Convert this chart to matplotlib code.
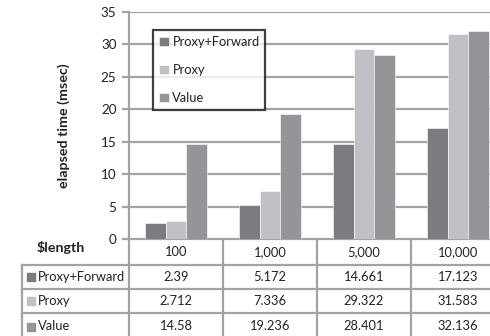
import matplotlib.pyplot as plt
from matplotlib.transforms import blended_transform_factory

plt.rcParams['font.family'] = ['Lato', 'DejaVu Sans']

lengths = ['100', '1,000', '5,000', '10,000']
series = ['Proxy+Forward', 'Proxy', 'Value']
proxy_forward = [2.39, 5.172, 14.661, 17.123]
proxy = [2.712, 7.336, 29.322, 31.583]
value = [14.58, 19.236, 28.401, 32.136]
value_labels = [['2.39', '5.172', '14.661', '17.123'],
                ['2.712', '7.336', '29.322', '31.583'],
                ['14.58', '19.236', '28.401', '32.136']]
colors = ['#7b7c80', '#c0c1c4', '#949599']
grid_c = '#a3a3a3'
fs = 9.3

W, H = 490, 336
fig = plt.figure(figsize=(W / 100, H / 100), dpi=100)

# pixel-space helper axes for the data table
tax = fig.add_axes([0, 0, 1, 1])
tax.set_xlim(0, W)
tax.set_ylim(H, 0)
tax.axis('off')

x0, x1, ytop, ybot = 129, 505, 12, 239
ax = fig.add_axes([x0 / W, 1 - ybot / H, (x1 - x0) / W, (ybot - ytop) / H])
ax.set_xlim(-0.5, 3.5)
ax.set_ylim(0, 35)

bw = 0.22
data = [proxy_forward, proxy, value]
for i, (vals, c, name) in enumerate(zip(data, colors, series)):
    ax.bar([k + (i - 1) * bw for k in range(4)], vals, width=bw, color=c,
           edgecolor='white', linewidth=0.4, label=name, zorder=3)

ax.set_yticks(range(0, 36, 5))
ax.yaxis.grid(True, color=grid_c, linewidth=1.6, zorder=0)
ax.set_xticks([])
for s in ['top', 'right', 'bottom']:
    ax.spines[s].set_visible(False)
ax.spines['left'].set_color(grid_c)
ax.spines['left'].set_linewidth(1.6)
ax.tick_params(axis='y', length=5, width=1.6, color=grid_c, labelsize=fs + 0.4,
               labelcolor='#222222', pad=4)
ax.set_ylabel('elapsed time (msec)', fontsize=10.3, fontweight='bold',
              color='#222222', labelpad=22)

leg = ax.legend(loc='upper left', bbox_to_anchor=(153 / W, 1 - 30 / H),
                bbox_transform=fig.transFigure, fontsize=fs, frameon=True,
                fancybox=False, handlelength=0.75, handleheight=0.75,
                handletextpad=0.3, labelspacing=1.25, borderpad=0.45,
                borderaxespad=0)
leg.get_frame().set_edgecolor('#111111')
leg.get_frame().set_linewidth(1.6)
for t in leg.get_texts():
    t.set_color('#222222')

# data table under the axis
bt = blended_transform_factory(ax.transData, tax.transData)
rows_y = [239, 265, 289, 313, 340]
lw = 1.6
bounds = [-0.5, 0.5, 1.5, 2.5, 3.5]
for b in bounds:
    tax.plot([b, b], [rows_y[0], rows_y[-1]], color=grid_c, lw=lw,
             transform=bt, clip_on=False)
tax.plot([-0.5, 3.5], [rows_y[0], rows_y[0]], color=grid_c, lw=lw,
         transform=bt, clip_on=False)
for y in rows_y[1:]:
    tax.plot([22, 600], [y, y], color=grid_c, lw=lw, clip_on=False)
tax.plot([22, 22], [rows_y[1], rows_y[-1]], color=grid_c, lw=lw, clip_on=False)

tax.text(61, 247, '$length', fontsize=10.3, fontweight='bold', color='#222222',
         ha='center', va='center')
for k, lab in enumerate(lengths):
    tax.text(k, (rows_y[0] + rows_y[1]) / 2, lab, transform=bt, fontsize=fs,
             ha='center', va='center', color='#222222')
for r, name in enumerate(series):
    yc = (rows_y[r + 1] + rows_y[r + 2]) / 2
    tax.add_patch(plt.Rectangle((27, yc - 4), 8, 8, color=colors[r]))
    tax.text(38, yc, name, fontsize=fs, ha='left', va='center', color='#222222')
    for k in range(4):
        tax.text(k, yc, value_labels[r][k], transform=bt, fontsize=fs,
                 ha='center', va='center', color='#222222')

fig.savefig('out.png', dpi=100)
